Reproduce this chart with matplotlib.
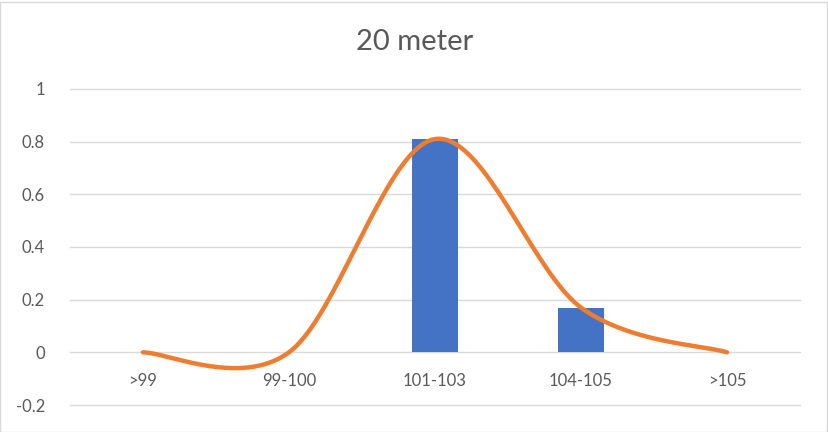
import matplotlib.pyplot as plt
import numpy as np

plt.rcParams["font.family"] = ["Lato", "DejaVu Sans"]

categories = [">99", "99-100", "101-103", "104-105", ">105"]
bar_values = [0, 0, 0.81, 0.17, 0]
line_values = [0, 0, 0.81, 0.17, 0]


def smooth_line(xs, ys, steps=40):
    # Excel style smoothed line: bezier segments with catmull-rom control points
    pts = np.column_stack([xs, ys]).astype(float)
    n = len(pts)
    out = []
    for i in range(n - 1):
        p0 = pts[i - 1] if i > 0 else pts[i]
        p1 = pts[i]
        p2 = pts[i + 1]
        p3 = pts[i + 2] if i + 2 < n else pts[i + 1]
        c1 = p1 + (p2 - p0) / 6
        c2 = p2 - (p3 - p1) / 6
        t = np.linspace(0, 1, steps)[:, None]
        seg = (1 - t) ** 3 * p1 + 3 * (1 - t) ** 2 * t * c1 + 3 * (1 - t) * t ** 2 * c2 + t ** 3 * p2
        out.append(seg)
    out = np.vstack(out)
    return out[:, 0], out[:, 1]


text_color = "#595959"
fig = plt.figure(figsize=(8.29, 4.32), dpi=100)
ax = fig.add_axes([70 / 829, 1 - 405 / 432, 730 / 829, 316 / 432])

x = np.arange(len(categories))
ax.bar(x, bar_values, width=0.315, color="#4472C4", zorder=2)
sx, sy = smooth_line(x, line_values)
ax.plot(sx, sy, color="#ED7D31", linewidth=3.2, solid_capstyle="round", zorder=3)

ax.set_xlim(-0.5, len(categories) - 0.5)
ax.set_ylim(-0.2, 1)
ax.set_yticks([-0.2, 0, 0.2, 0.4, 0.6, 0.8, 1])
ax.set_yticklabels(["-0.2", "0", "0.2", "0.4", "0.6", "0.8", "1"])
ax.tick_params(axis="y", length=0, labelsize=12, labelcolor=text_color, pad=18)
ax.set_xticks([])
for v in [-0.2, 0, 0.2, 0.4, 0.6, 0.8, 1]:
    ax.axhline(v, color="#D9D9D9", linewidth=1, zorder=0, clip_on=False)
for s in ax.spines.values():
    s.set_visible(False)

for i, c in enumerate(categories):
    ax.annotate(c, (i, 0), xytext=(0, -21), textcoords="offset points",
                ha="center", va="center", fontsize=12, color=text_color)

fig.text(0.5, 1 - 42 / 432, "20 meter", ha="center", va="center", fontsize=21, color=text_color)
fig.patches.append(plt.Rectangle((0.5 / 829, 0.5 / 432), 827 / 829, 430 / 432, transform=fig.transFigure,
                                 fill=False, edgecolor="#D9D9D9", linewidth=1))

plt.savefig("out.png")
